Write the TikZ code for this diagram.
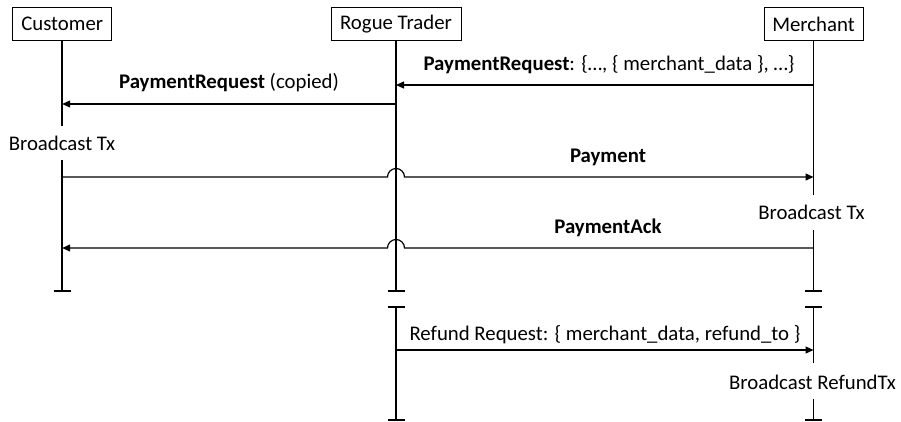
\documentclass[tikz,border=0pt]{standalone}
\usepackage{fontspec}
\setmainfont{Carlito}
\usetikzlibrary{arrows.meta}
\begin{document}
\begin{tikzpicture}[x=1pt,y=1pt,
  actor/.style={draw,line width=1pt,minimum height=33.5pt,inner sep=0pt,font=\fontsize{20.8}{24}\selectfont},
  lbl/.style={inner sep=0pt,anchor=base,font=\fontsize{20.8}{24}\selectfont},
  life/.style={line width=1.7pt},
  bar/.style={line width=1.5pt},
  msg/.style={line width=1.2pt,-{Triangle[length=8pt,width=7pt]}},
  plain/.style={line width=1.2pt}]
\useasboundingbox (0,0) rectangle (901,-421);
% actors
\node[actor,minimum width=99pt] (cust) at (62.2,-24) {Customer};
\node[actor,minimum width=130pt] (rogue) at (396,-24) {Rogue Trader};
\node[actor,minimum width=99pt] (merch) at (813.5,-24) {Merchant};
% lifeline coordinates
\coordinate (c0) at (62.2,-40.7);
\coordinate (c1) at (62.2,-126);
\coordinate (c2) at (62.2,-160);
\coordinate (cE) at (62.2,-291);
\coordinate (r0) at (396,-40.7);
\coordinate (rE) at (396,-291);
\coordinate (rS) at (396,-307);
\coordinate (rF) at (396,-420);
\coordinate (m0) at (813.5,-40.7);
\coordinate (m1) at (813.5,-195);
\coordinate (m2) at (813.5,-230);
\coordinate (mE) at (813.5,-291);
\coordinate (mS) at (813.5,-307);
\coordinate (m3) at (813.5,-363);
\coordinate (m4) at (813.5,-399);
\coordinate (mF) at (813.5,-420);
% lifelines
\draw[life] (c0) -- (c1);
\draw[life] (c2) -- (cE);
\draw[life] (r0) -- (rE);
\draw[life] (rS) -- (rF);
\draw[life] (m0) -- (m1);
\draw[life] (m2) -- (mE);
\draw[life] (mS) -- (m3);
\draw[life] (m4) -- (mF);
% end bars
\foreach \p in {cE,rE,rS,rF,mE,mS,mF}
  \draw[bar] ([xshift=-8.5pt]\p) -- ([xshift=8.5pt]\p);
% state labels
\node[lbl] (bc) at (62,-150) {Broadcast Tx};
\node[lbl] (bm) at (811.5,-219) {Broadcast Tx};
\node[lbl] (br) at (812.5,-389) {Broadcast RefundTx};
% messages
\coordinate (a1m) at (813.5,-85);
\coordinate (a1r) at (396,-85);
\draw[msg] (a1m) -- (a1r);
\node[lbl] (l1) at (609,-70) {\textbf{PaymentRequest}: \{…, \{ merchant\_data \}, …\}};
\coordinate (a2r) at (396,-104);
\coordinate (a2c) at (62.2,-104);
\draw[msg] (a2r) -- (a2c);
\node[lbl] (l2) at (229,-88) {\textbf{PaymentRequest} (copied)};
\coordinate (a3c) at (62.2,-177);
\coordinate (a3r) at (396,-177);
\coordinate (a3m) at (813.5,-177);
\draw[msg] (a3c) -- ([xshift=-8.5pt]a3r) arc[start angle=180,end angle=0,radius=8.5pt] -- (a3m);
\node[lbl] (l3) at (608,-162.5) {\textbf{Payment}};
\coordinate (a4m) at (813.5,-248);
\coordinate (a4r) at (396,-248);
\coordinate (a4c) at (62.2,-248);
\draw[msg] (a4m) -- ([xshift=8.5pt]a4r) arc[start angle=0,end angle=180,radius=8.5pt] -- (a4c);
\node[lbl] (l4) at (608,-233) {\textbf{PaymentAck}};
\coordinate (a5r) at (396,-350);
\coordinate (a5m) at (813.5,-350);
\draw[msg] (a5r) -- (a5m);
\node[lbl] (l5) at (605,-340) {Refund Request: \{ merchant\_data, refund\_to \}};
\end{tikzpicture}
\end{document}
